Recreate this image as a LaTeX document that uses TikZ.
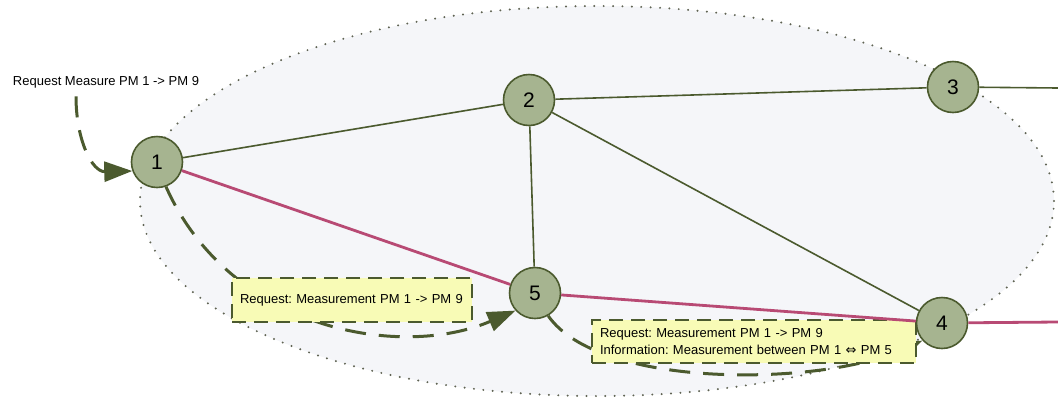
\documentclass[tikz,border=0pt]{standalone}
\usepackage{fontspec}
\setmainfont{Liberation Sans}
\newfontfamily\symbolfont{DejaVu Sans}
\usetikzlibrary{arrows.meta}
\frenchspacing
\definecolor{pmdark}{HTML}{4B5A2E}
\definecolor{pmfill}{HTML}{A6B490}
\definecolor{pmroute}{HTML}{B84A74}
\definecolor{pmzone}{HTML}{F5F6F9}
\definecolor{pmdots}{HTML}{5F6353}
\definecolor{pmnote}{HTML}{F8FBB6}

\begin{document}
\begin{tikzpicture}[x=1pt,y=-1pt]
    \tikzstyle{pm}=[circle,draw=pmdark,fill=pmfill,line width=1.6pt,minimum size=51pt,inner sep=0pt,font=\fontsize{21}{24}\selectfont]
    \tikzstyle{link}=[draw=pmdark,line width=1.6pt]
    \tikzstyle{route}=[draw=pmroute,line width=2.8pt]
    \tikzstyle{msg}=[draw=pmdark,line width=3pt,dash pattern=on 21pt off 13pt,-{Triangle[length=28pt,width=20pt]}]
    \tikzstyle{note}=[draw=pmdark,fill=pmnote,line width=1.8pt,dash pattern=on 14pt off 8pt,align=left,inner xsep=8pt,font=\fontsize{13}{17}\selectfont]
    \tikzstyle{annot}=[font=\fontsize{13}{16}\selectfont]

    \useasboundingbox (0,0) rectangle (1058,400);

    % measurement zone
    \draw[fill=pmzone,draw=pmdots,line width=2.2pt,line cap=round,dash pattern=on 0pt off 9.4pt]
        (597,201) ellipse [x radius=457pt,y radius=195pt];

    \foreach \name / \x / \y in {1/157/162, 2/529/100, 3/953/87, 4/942/323, 5/535/293}
        \node[pm] (N-\name) at (\x,\y) {\name};

    \coordinate (E-3) at (1058,88);
    \coordinate (E-4) at (1058,322);

    % requests between the PMs
    \node[annot] (req) at (106,82) {Request Measure PM 1 -> PM 9};

    \draw[msg] ([xshift=-30pt,yshift=-5pt]req.south) .. controls (76,140) and (92,172) .. (N-1.200);
    \draw[msg] (N-1.-70) .. controls (230,330) and (400,360) .. (N-5.222);
    \draw[msg] (N-5.-60) .. controls (600,390) and (820,385) .. (N-4.222);

    \node[note,text width=224pt,minimum height=44pt] (M-1) at (352,300)
        {Request: Measurement PM 1 -> PM 9};
    \node[note,text width=308pt,minimum height=43pt] (M-2) at (754,341.5)
        {Request: Measurement PM 1 -> PM 9\\Information: Measurement between PM 1 {\symbolfont ⇔} PM 5};

    % links
    \foreach \a / \b in {1/2, 2/3, 2/5, 2/4}
        \path[link] (N-\a) edge (N-\b);
    \path[link] (N-3) edge (E-3);

    \foreach \a / \b in {1/5, 5/4}
        \path[route] (N-\a) edge (N-\b);
    \path[route] (N-4) edge (E-4);
\end{tikzpicture}
\end{document}
